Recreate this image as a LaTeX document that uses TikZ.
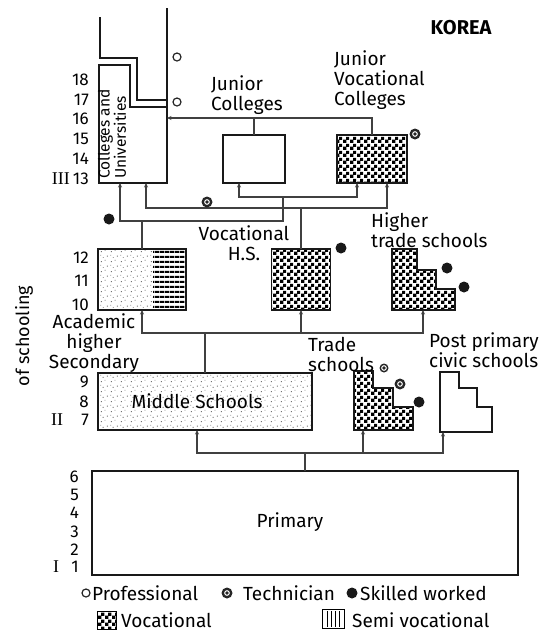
\documentclass[tikz,border=0pt]{standalone}
\usepackage{fontspec}
\setmainfont{Fira Sans}
\newfontfamily\romfont{Liberation Serif}
\usetikzlibrary{arrows.meta,patterns.meta}

\tikzdeclarepattern{name=vocchk, type=uncolored,
  bottom left={(0pt,0pt)}, top right={(7pt,7pt)}, tile size={(7pt,7pt)},
  code={\fill (0pt,0pt) rectangle (3.8pt,3.8pt); \fill (3.5pt,3.5pt) rectangle (7pt,7pt);}}
\tikzdeclarepattern{name=stipple, type=uncolored,
  bottom left={(0pt,0pt)}, top right={(10pt,10pt)}, tile size={(10pt,10pt)},
  code={\fill (1pt,1pt) rectangle (2pt,2pt); \fill (5pt,2.5pt) rectangle (6pt,3.5pt);
        \fill (3pt,5.5pt) rectangle (4pt,6.5pt); \fill (7.5pt,7pt) rectangle (8.5pt,8pt);
        \fill (0.5pt,8pt) rectangle (1.3pt,8.8pt);}}
\tikzdeclarepattern{name=hlines, type=uncolored,
  bottom left={(0pt,0pt)}, top right={(5pt,5pt)}, tile size={(5pt,5pt)},
  code={\fill (0pt,0pt) rectangle (5pt,2.4pt);}}

\begin{document}
\begin{tikzpicture}[x=1pt, y=-1pt, every node/.style={font=\fontsize{19}{20}\selectfont, inner sep=0pt},
    box/.style={draw=black!90, line width=1.8pt, anchor=north west, inner sep=0pt, outer sep=0pt},
    conn/.style={draw=black!75, line width=1.1pt},
    arr/.style={conn, -{Stealth[length=4.5pt,width=4pt]}},
    prof/.style={circle, draw=black!85, line width=1.2pt, fill=white, minimum size=8pt},
    tech/.style={circle, fill=black!85, minimum size=11pt,
      path picture={\draw[white, line width=1pt] (path picture bounding box.center) circle (2.3pt);}},
    skill/.style={circle, fill=black!90, minimum size=11pt},
    num/.style={anchor=east, font=\fontsize{17}{18}\selectfont},
    rom/.style={font=\romfont\fontsize{18}{18}\selectfont}]
  \useasboundingbox (0,0) rectangle (549,633);

  \node[font=\bfseries\fontsize{20}{22}\selectfont] (title) at (461,28) {KOREA};

  % colleges and universities
  \draw[black!90, line width=1.2pt] (100,17) |- (137,58) |- (167,100);
  \draw[black!90, line width=1.8pt] (99,183) |- (130,65) |- (167,107) -- (167,183) -- cycle;
  \draw[black!90, line width=1.6pt] (167,8) -- (167,107);
  \node[rotate=90, anchor=west, align=left, font=\fontsize{15.5}{15}\selectfont] (cutext) at (112,179) {Colleges and\\Universities};
  \node[prof] (pr1) at (177,57) {};
  \node[prof] (pr2) at (177,102) {};
  \coordinate (cu-a) at (120,183);
  \coordinate (cu-b) at (146,183);
  \coordinate (cu-r) at (167,118);

  \node[box, minimum width=62pt, minimum height=48pt] (jc) at (223,135) {};
  \node[anchor=west, align=left] (jclab) at (211,95) {Junior\\Colleges};
  \node[box, pattern=vocchk, minimum width=70pt, minimum height=48pt] (jvc) at (337,135) {};
  \node[anchor=west, align=left] (jvclab) at (334,80) {Junior\\Vocational\\Colleges};
  \node[tech] (te1) at (415,134) {};
  \coordinate (jc-in) at (239,183);
  \coordinate (jvc-a) at (357,183);
  \coordinate (jvc-b) at (387,183);

  % upper secondary
  \path[pattern=stipple, pattern color=black!55] (98,249) rectangle (153,310);
  \path[pattern=hlines] (153,249) rectangle (186,310);
  \node[box, minimum width=88pt, minimum height=61pt] (ahs) at (98,249) {};
  \node[align=center] (ahslab) at (94,343) {Academic\\higher\\Secondary};
  \node[box, pattern=vocchk, minimum width=59pt, minimum height=61pt] (vhs) at (271.5,249) {};
  \node[skill] (sk2) at (341,248) {};
  \node[align=center] (vhslab) at (244,243) {Vocational\\H.S.};
  \draw[black!90, line width=1.8pt, pattern=vocchk] (392,249) -| (417,270) -| (436,289) -| (455,310) -- (392,310) -- cycle;
  \node[skill] (sk3) at (447,268) {};
  \node[skill] (sk4) at (464,287) {};
  \node[anchor=west, align=left] (htslab) at (371,230) {Higher\\trade schools};
  \coordinate (hts-in) at (423,310);

  \coordinate (hubA) at (283,221);
  \coordinate (hubB) at (283,197);
  \coordinate (hubV) at (301,208);
  \draw[arr] (jvc.north) |- (cu-r);
  \draw[conn] (jc.north) -- (jc.north |- cu-r);
  \draw[conn] (ahs.north) |- (hubA) -- (hubB);
  \draw[arr] (hubA) -| (cu-a);
  \draw[arr] (hubB) -| (jc-in);
  \draw[arr] (hubB) -| (jvc-a);
  \draw[conn] (vhs.north) -- (hubV);
  \draw[arr] (hubV) -| (cu-b);
  \draw[arr] (hubV) -| (jvc-b);
  \node[tech] (te2) at (207,202) {};
  \node[skill] (sk1) at (109,219) {};

  % lower secondary
  \node[box, pattern=stipple, pattern color=black!55, minimum width=214pt, minimum height=57pt] (ms) at (98,373) {};
  \node (mslab) at (197,401) {Middle Schools};
  \draw[black!90, line width=1.8pt, pattern=vocchk] (354,371) -| (373,388) -| (393,407) -| (413,430) -- (354,430) -- cycle;
  \node[tech, minimum size=9pt] (te3) at (384,368) {};
  \node[tech] (te4) at (400,384) {};
  \node[skill] (sk5) at (419,402) {};
  \node[anchor=west, align=left] (tslab) at (308,354) {Trade\\schools};
  \draw[black!90, line width=1.6pt, fill=white] (440,372) -| (459,388) -| (477,407) -| (492,432) -- (440,432) -- cycle;
  \node[anchor=west, align=left] (pplab) at (429,350) {Post primary\\civic schools};
  \coordinate (ts-in) at (363,430);
  \coordinate (pp-in) at (443,432);
  \coordinate (rowM) at (0,333);
  \draw[conn] (ms.north) -- (ms.north |- rowM);
  \draw[arr] (ms.north |- rowM) -| (ahs.south);
  \draw[arr] (ms.north |- rowM) -| (vhs.south);
  \draw[arr] (ms.north |- rowM) -| (hts-in);

  % primary
  \node[box, minimum width=426pt, minimum height=104pt] (pri) at (92,471) {};
  \node (prilab) at (290,522) {Primary};
  \coordinate (rowP) at (0,453);
  \coordinate (ms-in) at (197,430);
  \draw[conn] (pri.north) -- (pri.north |- rowP);
  \draw[arr] (pri.north |- rowP) -| (ms-in);
  \draw[arr] (pri.north |- rowP) -| (ts-in);
  \draw[arr] (pri.north |- rowP) -| (pp-in);

  % years and levels
  \foreach \y/\k in {80/18,100/17,119/16,139/15,159/14,179/13,258/12,281/11,305/10,382/9,402/8,420/7}{
    \node[num] (yr\k) at (89,\y) {\k};
  }
  \foreach \y/\k in {477/6,495/5,513/4,532/3,550/2,567/1}{
    \node[num] (yr\k) at (79,\y) {\k};
  }
  \node[rom, anchor=east] (lvl3) at (70,179) {III};
  \node[rom] (lvl2) at (57,420) {II};
  \node[rom] (lvl1) at (56,567) {I};
  \node[rotate=90, font=\fontsize{18}{20}\selectfont] (axis) at (24,336) {of schooling};

  % legend
  \node[prof] (lgpro) at (86,593) {};
  \node[anchor=west] (lgprot) at (92,593) {Professional};
  \node[tech] (lgtec) at (227,593) {};
  \node[anchor=west] (lgtect) at (243,593) {Technician};
  \node[skill] (lgski) at (352,593) {};
  \node[anchor=west] (lgskit) at (360,593) {Skilled worked};
  \node[draw, pattern=vocchk, line width=.8pt, minimum width=19pt, minimum height=18pt] (lgvoc) at (107,620) {};
  \node[anchor=west] (lgvoct) at (121,620) {Vocational};
  \node[draw, line width=1pt, minimum width=22pt, minimum height=19pt] (lgsemi) at (333,619) {};
  \foreach \x in {327,331,335,339}{
    \draw[line width=.6pt] (\x,611) -- (\x,627);
  }
  \node[anchor=west] (lgsemit) at (352,620) {Semi vocational};
\end{tikzpicture}
\end{document}
